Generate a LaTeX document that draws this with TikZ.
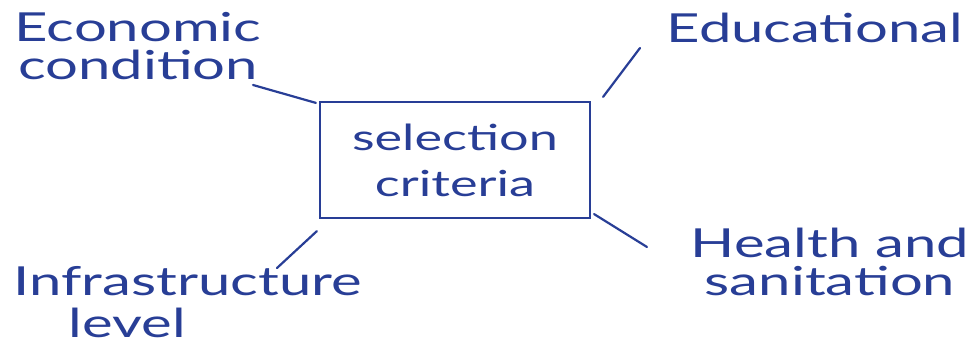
\documentclass[tikz,border=0pt]{standalone}
\usepackage{fontspec}
\setmainfont[FakeStretch=1.45]{Lato}
\usetikzlibrary{positioning}
\definecolor{ink}{RGB}{40,62,150}

\begin{document}
\begin{tikzpicture}[
    x=1pt, y=-1pt,
    crit/.style={draw=ink, line width=2.2pt, minimum width=270pt, minimum height=116pt, align=center, text=ink, font=\fontsize{36}{46}\selectfont},
    label/.style={text=ink, align=center, font=\fontsize{40}{38}\selectfont, inner sep=0pt},
    link/.style={draw=ink, line width=2.2pt, line cap=round}
]
\useasboundingbox (0,0) rectangle (977,352);

% Centre
\node[crit] (crit) at (455,160) {selection\\criteria};

% Factors
\node[label] (econ) at (138,46) {Economic\\condition};
\node[label] (edu) at (815,28) {Educational};
\node[label] (health) at (830,262) {Health and\\sanitation};
\node[label, align=left, font=\fontsize{40}{42}\selectfont] (infra) at (188,302) {Infrastructure\\\hspace{55pt}level};

% Free ends of the strokes
\coordinate (econ-end) at (253,85);
\coordinate (edu-end) at (640,48);
\coordinate (health-end) at (647,247);
\coordinate (infra-end) at (277,268);

% Strokes
\draw[link] (crit.north west) ++(-3,2) -- (econ-end);
\draw[link] (crit.north east) ++(12,-4) -- (edu-end);
\draw[link] (crit.south east) ++(3,-5) -- (health-end);
\draw[link] (crit.south west) ++(-2,12) -- (infra-end);

\end{tikzpicture}
\end{document}
